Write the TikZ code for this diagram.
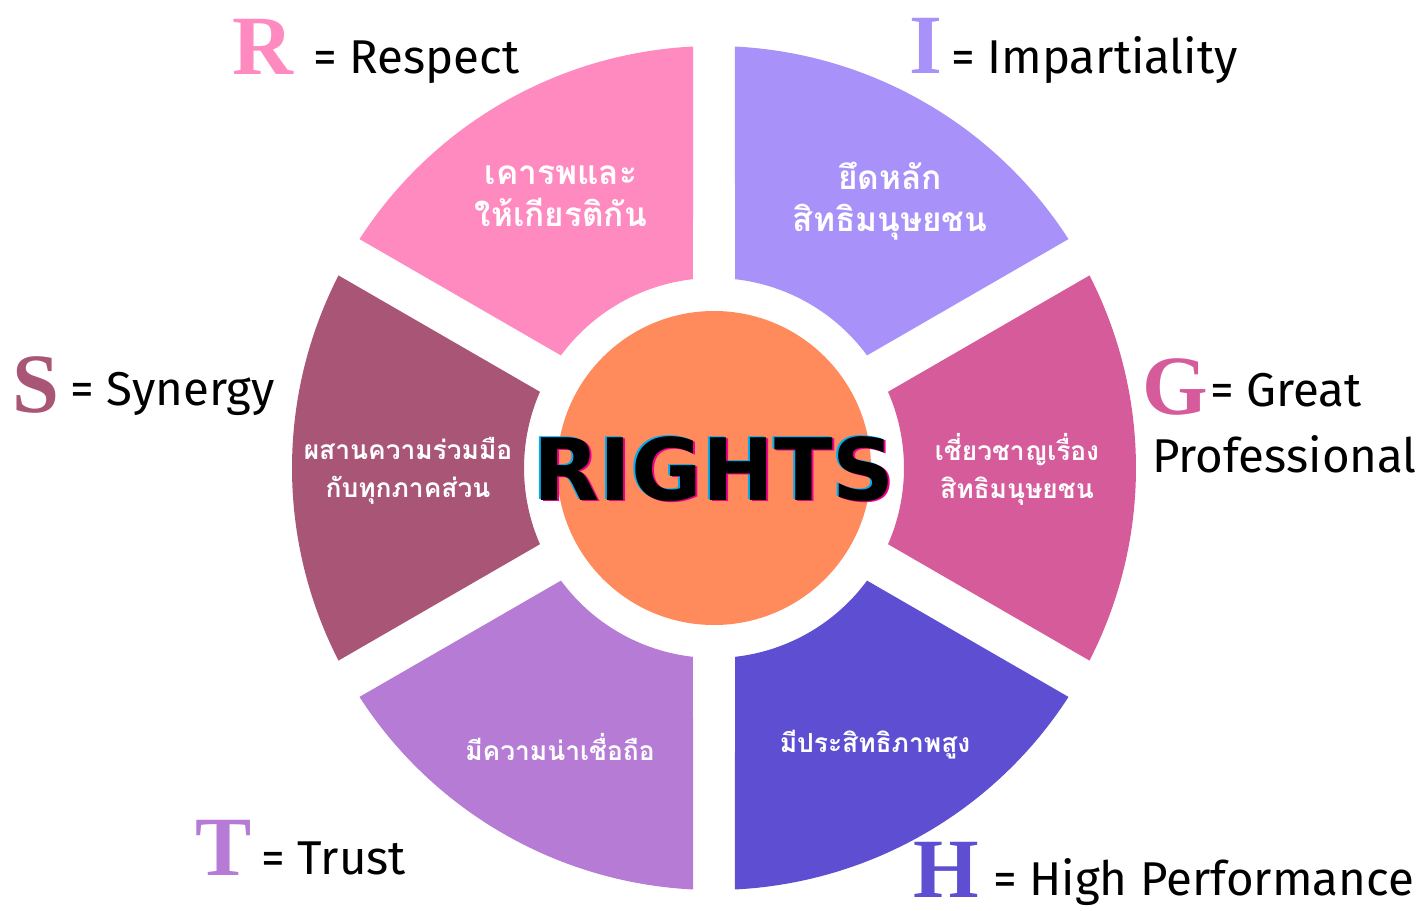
\documentclass[tikz,border=0pt]{standalone}
\usepackage{fontspec}
\setmainfont{Fira Sans}
\newfontfamily\thaifont[Script=Thai]{Loma}
\newfontfamily\capfont{Liberation Serif}
\newfontfamily\titlefont{DejaVu Sans}

\definecolor{rosa}{HTML}{FF8AC0}
\definecolor{lilla}{HTML}{A892FA}
\definecolor{fucsia}{HTML}{D65B9A}
\definecolor{indaco}{HTML}{5D4ED2}
\definecolor{viola}{HTML}{B57BD5}
\definecolor{prugna}{HTML}{A85576}
\definecolor{arancio}{HTML}{FF8A5C}

\tikzset{
  iniziale/.style={anchor=base west, inner sep=0pt, font=\capfont\bfseries\fontsize{48}{48}\selectfont},
  voce/.style={anchor=base west, inner sep=0pt, font=\fontsize{27}{32}\selectfont},
  settore/.style={white, align=center, inner sep=0pt, font=\thaifont\bfseries\fontsize{19}{24}\selectfont},
  settorino/.style={settore, font=\thaifont\bfseries\fontsize{15}{21.5}\selectfont},
  titolo/.style={anchor=base, inner sep=0pt, font=\titlefont\bfseries\fontsize{49}{49}\selectfont}
}

\begin{document}
\begin{tikzpicture}[x=0.02cm, y=0.02cm]
    \useasboundingbox (-714,-442) rectangle (705,468);

    % Spicchi della ruota (raggio 422, foro 190, fessure larghe 42)
    \fill[rosa]   (92.85:422) arc[start angle=92.85, end angle=147.15, radius=422] -- (143.65:190) arc[start angle=143.65, end angle=96.35, radius=190] -- cycle;
    \fill[lilla]  (32.85:422) arc[start angle=32.85, end angle=87.15, radius=422] -- (83.65:190) arc[start angle=83.65, end angle=36.35, radius=190] -- cycle;
    \fill[fucsia] (-27.15:422) arc[start angle=-27.15, end angle=27.15, radius=422] -- (23.65:190) arc[start angle=23.65, end angle=-23.65, radius=190] -- cycle;
    \fill[indaco] (-87.15:422) arc[start angle=-87.15, end angle=-32.85, radius=422] -- (-36.35:190) arc[start angle=-36.35, end angle=-83.65, radius=190] -- cycle;
    \fill[viola]  (-147.15:422) arc[start angle=-147.15, end angle=-92.85, radius=422] -- (-96.35:190) arc[start angle=-96.35, end angle=-143.65, radius=190] -- cycle;
    \fill[prugna] (152.85:422) arc[start angle=152.85, end angle=207.15, radius=422] -- (203.65:190) arc[start angle=203.65, end angle=156.35, radius=190] -- cycle;

    % Cerchio centrale
    \fill[arancio] (0,0) circle (157);

    % Scritta centrale con effetto glitch
    \node[titolo, cyan]      (rightsC) at (-2,-31) {RIGHTS};
    \node[titolo, magenta]   (rightsM) at (2,-33) {RIGHTS};
    \node[titolo, black]     (rights)  at (0,-32) {RIGHTS};

    % Testi nei settori
    \node[settore]   (testoR) at (-153,272) {เคารพและ\\ให้เกียรติกัน};
    \node[settore]   (testoI) at (176,267) {ยึดหลัก\\สิทธิมนุษยชน};
    \node[settorino] (testoG) at (303,-1) {เชี่ยวชาญเรื่อง\\สิทธิมนุษยชน};
    \node[settorino] (testoS) at (-306,-3) {ผสานความร่วมมือ\\กับทุกภาคส่วน};
    \node[settorino] (testoT) at (-154,-279) {มีความน่าเชื่อถือ};
    \node[settorino] (testoH) at (161,-277) {มีประสิทธิภาพสูง};

    % Iniziali e significati
    \node[iniziale, rosa]   (capR) at (-482,393) {R};
    \node[voce]             (voceR) at (-401,395) {= Respect};
    \node[iniziale, lilla]  (capI) at (195,395) {I};
    \node[voce]             (voceI) at (237,395) {= Impartiality};
    \node[iniziale, prugna] (capS) at (-702,56) {S};
    \node[voce]             (voceS) at (-644,63) {= Synergy};
    \node[iniziale, fucsia] (capG) at (428,54) {G};
    \node[voce]             (voceG) at (496,62) {= Great};
    \node[voce]             (voceG2) at (438,-4) {Professional};
    \node[iniziale, viola]  (capT) at (-519,-407) {T};
    \node[voce]             (voceT) at (-453,-406) {= Trust};
    \node[iniziale, indaco] (capH) at (199,-429) {H};
    \node[voce]             (voceH) at (279,-427) {= High Performance};
\end{tikzpicture}
\end{document}
